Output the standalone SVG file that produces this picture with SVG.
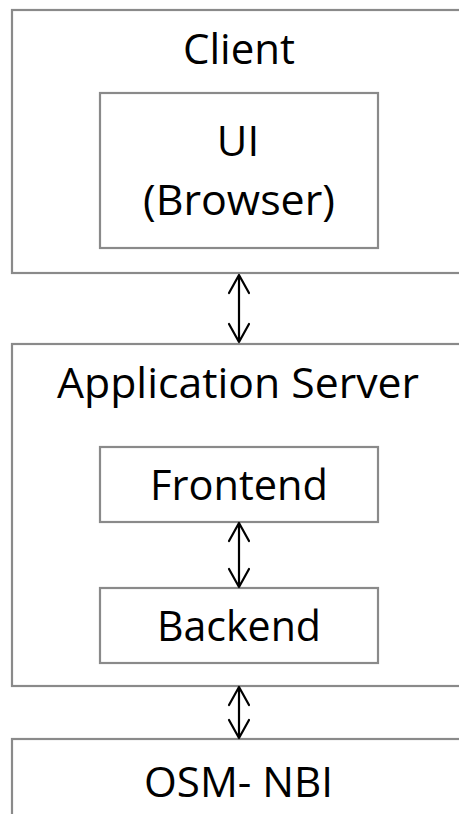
<svg xmlns="http://www.w3.org/2000/svg" width="459" height="814" viewBox="0 0 459 814">
<style>
.box{fill:#fff;stroke:#8a8a8a;stroke-width:2.2}
.lbl{font-family:"Open Sans","Noto Sans","Liberation Sans",sans-serif;font-size:42px;fill:#000;text-anchor:middle}
.arr{fill:none;stroke:#000;stroke-width:2.2;stroke-linecap:round;stroke-linejoin:round}
</style>
<rect width="459" height="814" fill="#fff"/>
<g id="client">
<rect class="box" x="12" y="10" width="470" height="263"/>
<text class="lbl" x="239" y="64" textLength="112" lengthAdjust="spacingAndGlyphs">Client</text>
</g>
<g id="ui">
<rect class="box" x="100" y="93" width="278" height="155"/>
<text class="lbl" x="238" y="156">UI</text>
<text class="lbl" x="239" y="215" textLength="192" lengthAdjust="spacingAndGlyphs">(Browser)</text>
</g>
<g id="appserver">
<rect class="box" x="12" y="344" width="470" height="342"/>
<text class="lbl" x="238" y="398" textLength="362" lengthAdjust="spacingAndGlyphs">Application Server</text>
</g>
<g id="frontend">
<rect class="box" x="100" y="447" width="278" height="75"/>
<text class="lbl" x="239" y="500" textLength="178" lengthAdjust="spacingAndGlyphs">Frontend</text>
</g>
<g id="backend">
<rect class="box" x="100" y="588" width="278" height="75"/>
<text class="lbl" x="239" y="641" textLength="164" lengthAdjust="spacingAndGlyphs">Backend</text>
</g>
<g id="osmnbi">
<rect class="box" x="12" y="739" width="470" height="100"/>
<text class="lbl" x="238.5" y="797" textLength="189" lengthAdjust="spacingAndGlyphs">OSM- NBI</text>
</g>
<g id="connectors">
<path class="arr" d="M239,275 V342 M229,293 L239,275 L249,293 M229,324 L239,342 L249,324"/>
<path class="arr" d="M239,523 V587 M229,541 L239,523 L249,541 M229,569 L239,587 L249,569"/>
<path class="arr" d="M239,687 V738 M229,705 L239,687 L249,705 M229,720 L239,738 L249,720"/>
</g>
</svg>
